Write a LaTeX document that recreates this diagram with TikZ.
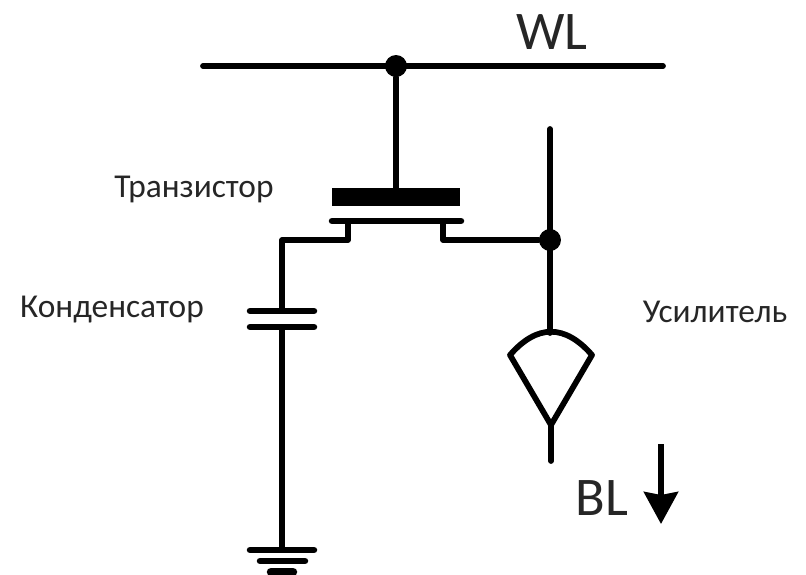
\documentclass[tikz,border=0pt]{standalone}
\usepackage{fontspec}
\setmainfont{Carlito}
\usetikzlibrary{arrows.meta}
\begin{document}
\begin{tikzpicture}[
    x=0.02cm,y=-0.02cm,
    line/.style={line width=1.15mm, line cap=round, line join=round},
    plate/.style={line width=1.3mm, line cap=round},
    dot/.style={circle,fill,inner sep=0pt,minimum size=4.4mm},
    small/.style={font=\fontsize{19}{21}\selectfont, text=black!85},
    big/.style={font=\fontsize{31}{34}\selectfont, text=black!85}
    ]
    \useasboundingbox (0, 0) rectangle (806, 575);
    % word line
    \coordinate (wlleft) at (203, 66);
    \coordinate (wlright) at (663, 66);
    \node[dot] (wldot) at (396, 66) {};
    \draw[line] (wlleft) -- (wlright);
    \node[big] (wl) at (552, 32) {WL};
    % transistor
    \coordinate (gatetop) at (396, 190);
    \node[fill, inner sep=0pt, minimum width=2.56cm, minimum height=0.35cm] (gate) at (396, 197) {};
    \coordinate (chleft) at (332, 221);
    \coordinate (chright) at (461, 221);
    \coordinate (srcleft) at (348, 221);
    \coordinate (srcright) at (443, 221);
    \draw[line] (wldot) -- (gatetop);
    \draw[plate] (chleft) -- (chright);
    \node[small] (trlabel) at (194, 189) {Транзистор};
    % bit line and amplifier
    \coordinate (bltop) at (550, 129);
    \node[dot] (bldot) at (550, 240) {};
    \coordinate (ampleft) at (510, 355);
    \coordinate (ampright) at (592, 355);
    \coordinate (amptop) at (550, 333);
    \coordinate (amptip) at (551, 425);
    \coordinate (blend) at (551, 461);
    \draw[line] (bltop) -- (amptop);
    \draw[line] (srcright) |- (bldot);
    \draw[line] (ampleft) .. controls (537, 324) and (565, 324) .. (ampright) -- (amptip) -- cycle;
    \draw[line] (amptip) -- (blend);
    \node[small] (amplabel) at (715, 312) {Усилитель};
    \node[big] (bl) at (602, 498) {BL};
    \coordinate (arrtop) at (661, 444);
    \coordinate (arrtip) at (661, 524);
    \draw[line, line cap=butt, -{Stealth[length=6.4mm, width=6.8mm, inset=0.6mm]}] (arrtop) -- (arrtip);
    % capacitor and ground
    \coordinate (capcorner) at (282, 240);
    \coordinate (captop) at (282, 311);
    \coordinate (capbot) at (282, 327);
    \coordinate (gnd) at (282, 550);
    \draw[line] (srcleft) |- (capcorner) -- (captop);
    \draw[line] (capbot) -- (gnd);
    \draw[plate] (250, 311) -- (314, 311);
    \draw[plate] (250, 327) -- (314, 327);
    \draw[plate] (250, 550) -- (314, 550);
    \draw[plate] (260, 561) -- (305, 561);
    \draw[plate, line width=1.7mm] (271, 572) -- (293, 572);
    \node[small] (caplabel) at (112, 310) {Конденсатор};
\end{tikzpicture}
\end{document}
